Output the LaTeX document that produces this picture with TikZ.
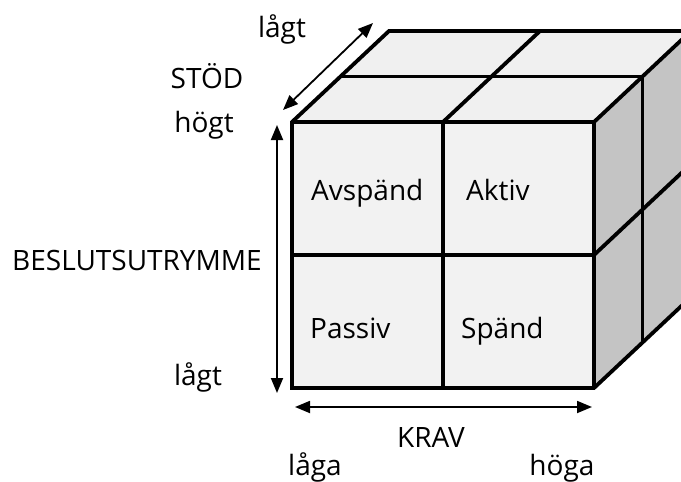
\documentclass[tikz,border=0pt]{standalone}
\usepackage{fontspec}
\setmainfont{Open Sans}
\usepackage{tikz}
\usetikzlibrary{arrows.meta,calc}

\definecolor{faceFront}{gray}{0.95}
\definecolor{faceTop}{gray}{0.94}
\definecolor{faceSide}{gray}{0.77}

\tikzset{
    edge/.style={line width=3.8pt, line join=miter},
    dblarrow/.style={{Triangle[length=15pt,width=12pt]}-{Triangle[length=15pt,width=12pt]}, line width=1.8pt},
    lbl/.style={font=\fontsize{28}{32}\selectfont, inner sep=0pt},
}

\begin{document}
\begin{tikzpicture}[x=1pt,y=-1pt]
        \useasboundingbox (0,0) rectangle (681,482);
        \clip (0,0) rectangle (681,482);

        % cube corners, depth offset (97,-91)
        \coordinate (fa) at (292,122);
        \coordinate (fb) at (594,122);
        \coordinate (fc) at (594,388);
        \coordinate (fd) at (292,388);
        \coordinate (ba) at ($(fa)+(97,-91)$);
        \coordinate (bb) at ($(fb)+(97,-91)$);
        \coordinate (bc) at ($(fc)+(97,-91)$);

        % faces
        \fill[faceTop] (fa) -- (fb) -- (bb) -- (ba) -- cycle;
        \fill[faceSide] (fb) -- (bb) -- (bc) -- (fc) -- cycle;
        \fill[faceFront] (fa) rectangle (fc);

        % dividing lines
        \draw[edge] ($(fa)!0.5!(fb)$) -- ($(ba)!0.5!(bb)$);
        \draw[edge] ($(fa)!0.5!(ba)$) -- ($(fb)!0.5!(bb)$) -- ($(fc)!0.5!(bc)$);
        \draw[edge] ($(fb)!0.5!(fc)$) -- ($(bb)!0.5!(bc)$);
        \draw[edge] ($(fa)!0.5!(fb)$) -- ($(fd)!0.5!(fc)$);
        \draw[edge] ($(fa)!0.5!(fd)$) -- ($(fb)!0.5!(fc)$);

        % outline
        \draw[edge] (fa) -- (ba) -- (bb) -- (bc) -- (fc) -- (fd) -- cycle;
        \draw[edge] (fa) -- (fb) -- (fc);
        \draw[edge] (fb) -- (bb);

        % cell labels
        \node[lbl, anchor=base west] (avspand) at (311,200) {Avspänd};
        \node[lbl, anchor=base west] (aktiv) at (466,200) {Aktiv};
        \node[lbl, anchor=base west] (passiv) at (310,338) {Passiv};
        \node[lbl, anchor=base west] (spand) at (461,338) {Spänd};

        % axis labels
        \node[lbl, anchor=base] (stodlow) at (282,37) {lågt};
        \node[lbl, anchor=base] (stod) at (207,88) {STÖD};
        \node[lbl, anchor=base] (hogt) at (204,132) {högt};
        \node[lbl, anchor=base] (beslut) at (137,270) {BESLUTSUTRYMME};
        \node[lbl, anchor=base] (beslow) at (198,385) {lågt};
        \node[lbl, anchor=base] (krav) at (431,447) {KRAV};
        \node[lbl, anchor=base] (laga) at (315,475) {låga};
        \node[lbl, anchor=base] (hoga) at (562,475) {höga};

        % arrows
        \coordinate (stodtop) at (373,23);
        \coordinate (stodbot) at (283,110);
        \coordinate (vtop) at (277,125);
        \coordinate (vbot) at (277,393);
        \coordinate (hleft) at (295,407);
        \coordinate (hright) at (592,407);
        \draw[dblarrow] (stodbot) -- (stodtop);
        \draw[dblarrow] (vtop) -- (vbot);
        \draw[dblarrow] (hleft) -- (hright);
    \end{tikzpicture}
\end{document}
